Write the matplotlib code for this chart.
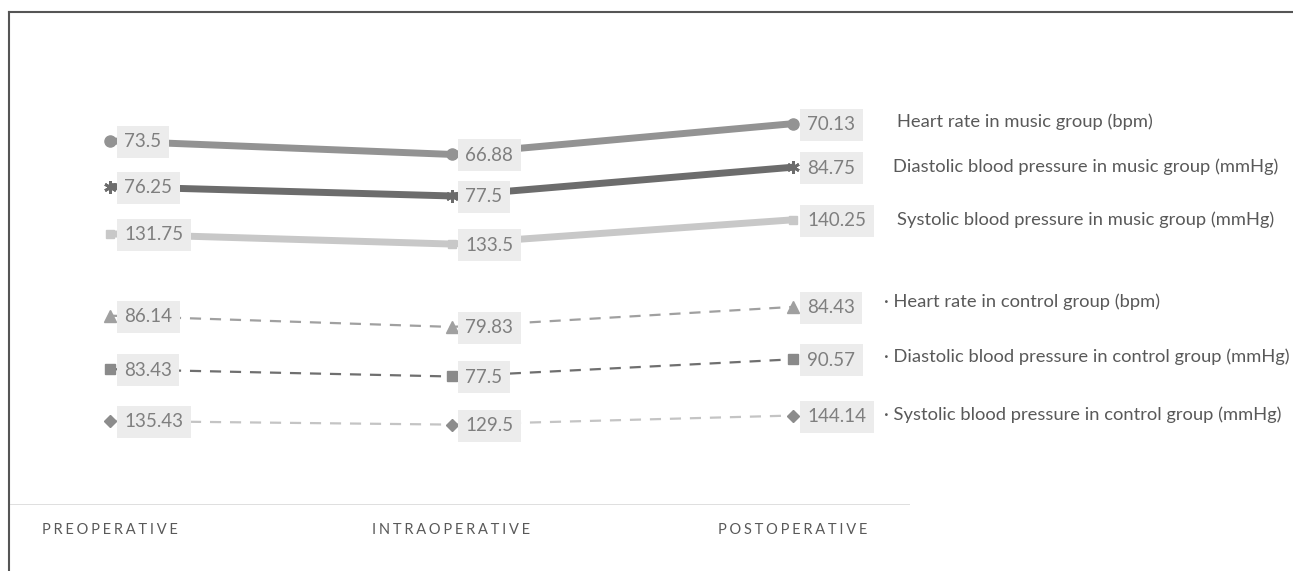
import numpy as np
import matplotlib
matplotlib.use('Agg')
from matplotlib import pyplot as plt
from matplotlib.lines import Line2D

# categories
stages = ['PREOPERATIVE', 'INTRAOPERATIVE', 'POSTOPERATIVE']

# series values (Excel stacked line chart: drawn bottom to top)
sbp_control = [135.43, 129.5, 144.14]
dbp_control = [83.43, 77.5, 90.57]
hr_control = [86.14, 79.83, 84.43]
sbp_music = [131.75, 133.5, 140.25]
dbp_music = [76.25, 77.5, 84.75]
hr_music = [73.5, 66.88, 70.13]

names = ['Systolic blood pressure in control group (mmHg)',
         'Diastolic blood pressure in control group (mmHg)',
         'Heart rate in control group (bpm)',
         'Systolic blood pressure in music group (mmHg)',
         'Diastolic blood pressure in music group (mmHg)',
         'Heart rate in music group (bpm)']

series = [sbp_control, dbp_control, hr_control, sbp_music, dbp_music, hr_music]

styles = [
    dict(color='#c4c4c4', lw=1.6, ls=(0, (5, 4)), marker='D', ms=6, mfc='#8c8c8c', mec='#8c8c8c'),
    dict(color='#6f6f6f', lw=1.6, ls=(0, (5, 4)), marker='s', ms=7, mfc='#8a8a8a', mec='#8a8a8a'),
    dict(color='#a0a0a0', lw=1.6, ls=(0, (5, 4)), marker='^', ms=8, mfc='#a0a0a0', mec='#a0a0a0'),
    dict(color='#c8c8c8', lw=5, ls='-', marker='s', ms=6, mfc='#c8c8c8', mec='#c8c8c8'),
    dict(color='#6c6c6c', lw=5, ls='-', marker=(6, 2, 0), ms=9, mfc='#6c6c6c', mec='#6c6c6c', mew=2),
    dict(color='#939393', lw=5, ls='-', marker='o', ms=8, mfc='#939393', mec='#939393'),
]

W, H = 1293, 571
fig = plt.figure(figsize=(W / 100, H / 100), dpi=100)
ax = fig.add_axes([10 / W, 1 - 505 / H, 900 / W, 493 / H])

x = np.arange(len(stages))
stacked = np.cumsum(np.array(series), axis=0)

for vals, cum, st in zip(series, stacked, styles):
    ax.plot(x, cum, solid_capstyle='butt', dash_capstyle='butt', **st)
    for xi, yi, v in zip(x, cum, vals):
        ax.annotate(f'{v:g}', (xi, yi), xytext=(14, -1), textcoords='offset pixels',
                    ha='left', va='center', fontsize=13.5, color='#7f7f7f', family='Lato',
                    bbox=dict(boxstyle='square,pad=0.4', fc='#ececec', ec='none'))

px = 341.5
ax.set_xlim(-100 / px, 2 + 117 / px)
ax.set_ylim(0, 493 / 0.6208)
ax.axis('off')
ax.axhline(0, color='#d9d9d9', lw=1.2)

# category labels with letter spacing
for xi, s in zip(x, stages):
    ax.text(xi, -40, '\u2009\u200a'.join(s), ha='center', va='center', fontsize=10.5,
            color='#595959', family=['Lato', 'DejaVu Sans'], clip_on=False)

# legend text at right
leg_pos = [(884, 415, True), (884, 357, True), (884, 302, True),
           (897, 220, False), (893, 167, False), (897, 122, False)]
for (lx, ly, dot), name in zip(leg_pos, names):
    fig.text(lx / W, 1 - ly / H, ('\u00b7 ' if dot else '') + name, ha='left', va='center',
             fontsize=13.2, color='#595959', family='Lato')

# outer frame (top and left)
fig.add_artist(Line2D([9 / W, 1], [1 - 12 / H, 1 - 12 / H], color='#555555', lw=1.5))
fig.add_artist(Line2D([9 / W, 9 / W], [0, 1 - 12 / H], color='#555555', lw=1.5))

fig.savefig('out.png', dpi=100)
